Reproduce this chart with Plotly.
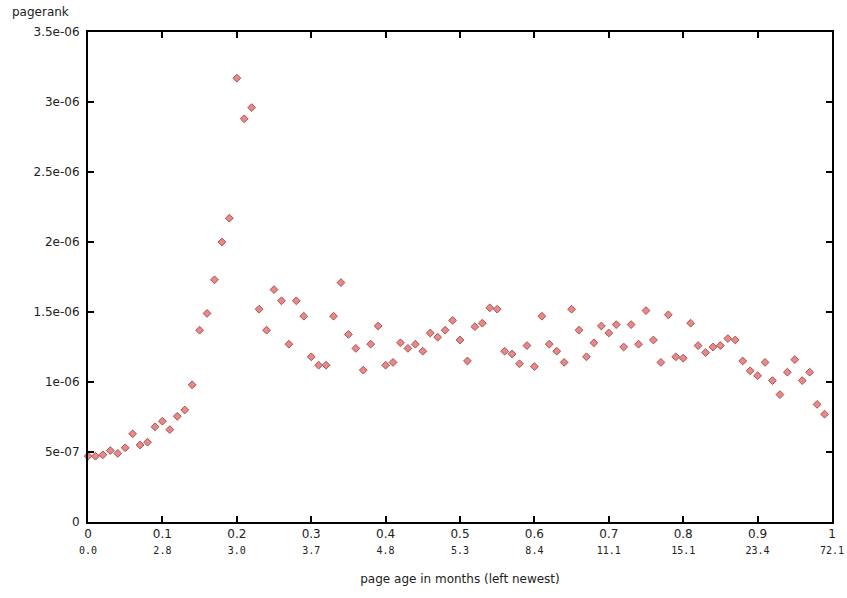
import plotly.graph_objects as go

# x positions (fraction of pages ordered by age)
age_fraction = [i / 100 for i in range(100)]

pagerank_e6 = [
    0.47, 0.47, 0.48, 0.51, 0.49, 0.53, 0.63, 0.55, 0.57, 0.68,
    0.72, 0.66, 0.755, 0.80, 0.98, 1.37, 1.49, 1.73, 2.00, 2.17,
    3.17, 2.88, 2.96, 1.52, 1.37, 1.66, 1.58, 1.27, 1.58, 1.47,
    1.18, 1.12, 1.12, 1.47, 1.71, 1.34, 1.24, 1.085, 1.27, 1.40,
    1.12, 1.14, 1.28, 1.24, 1.27, 1.22, 1.35, 1.32, 1.37, 1.44,
    1.30, 1.15, 1.395, 1.42, 1.53, 1.52, 1.22, 1.20, 1.13, 1.26,
    1.11, 1.47, 1.27, 1.22, 1.14, 1.52, 1.37, 1.18, 1.28, 1.40,
    1.35, 1.41, 1.25, 1.41, 1.27, 1.51, 1.30, 1.14, 1.48, 1.18,
    1.17, 1.42, 1.26, 1.21, 1.25, 1.26, 1.31, 1.30, 1.15, 1.08,
    1.045, 1.14, 1.01, 0.91, 1.07, 1.16, 1.01, 1.07, 0.84, 0.77,
]
pagerank = [v * 1e-6 for v in pagerank_e6]

x_tick_vals = [0, 0.1, 0.2, 0.3, 0.4, 0.5, 0.6, 0.7, 0.8, 0.9, 1]
x_tick_main = ["0", "0.1", "0.2", "0.3", "0.4", "0.5", "0.6", "0.7", "0.8", "0.9", "1"]
x_tick_months = ["0.0", "2.8", "3.0", "3.7", "4.8", "5.3", "8.4", "11.1", "15.1", "23.4", "72.1"]

y_tick_vals = [0, 5e-7, 1e-6, 1.5e-6, 2e-6, 2.5e-6, 3e-6, 3.5e-6]
y_tick_text = ["0", "5e-07", "1e-06", "1.5e-06", "2e-06", "2.5e-06", "3e-06", "3.5e-06"]

x_tick_text = [
    f"{a}<br><span style='font-family:DejaVu Sans Mono;font-size:10px'>{b}</span>"
    for a, b in zip(x_tick_main, x_tick_months)
]

fig = go.Figure()
fig.add_trace(go.Scatter(
    x=age_fraction, y=pagerank, mode="markers",
    marker=dict(symbol="diamond", size=6, color="#e58a8a",
                line=dict(color="#b05050", width=1)),
    cliponaxis=False, showlegend=False,
))

axis_common = dict(
    showline=True, linecolor="black", linewidth=2, mirror="ticks",
    ticks="inside", ticklen=6, tickwidth=2, tickcolor="black",
    showgrid=False, zeroline=False, automargin=False,
)

fig.update_layout(
    width=847, height=598,
    margin=dict(l=88, r=15, t=32, b=76),
    paper_bgcolor="white", plot_bgcolor="white",
    font=dict(family="DejaVu Sans", size=12, color="#222"),
    xaxis=dict(range=[0, 1], tickvals=x_tick_vals, ticktext=x_tick_text,
               title=dict(text="page age in months (left newest)", standoff=20,
                          font=dict(size=12)),
               **axis_common),
    yaxis=dict(range=[0, 3.5e-6], tickvals=y_tick_vals, ticktext=y_tick_text,
               ticklabelstandoff=4, **axis_common),
    annotations=[dict(text="pagerank", xref="paper", yref="paper",
                      x=-78 / 744, y=1 + 20 / 490, xanchor="left", yanchor="middle",
                      showarrow=False, font=dict(size=12))],
)

# remove the default 8px page margin so the figure fills the window exactly
fig.write_html("out.html", config={"displayModeBar": False},
               post_script="document.body.style.margin='0';document.body.style.overflow='hidden';")
